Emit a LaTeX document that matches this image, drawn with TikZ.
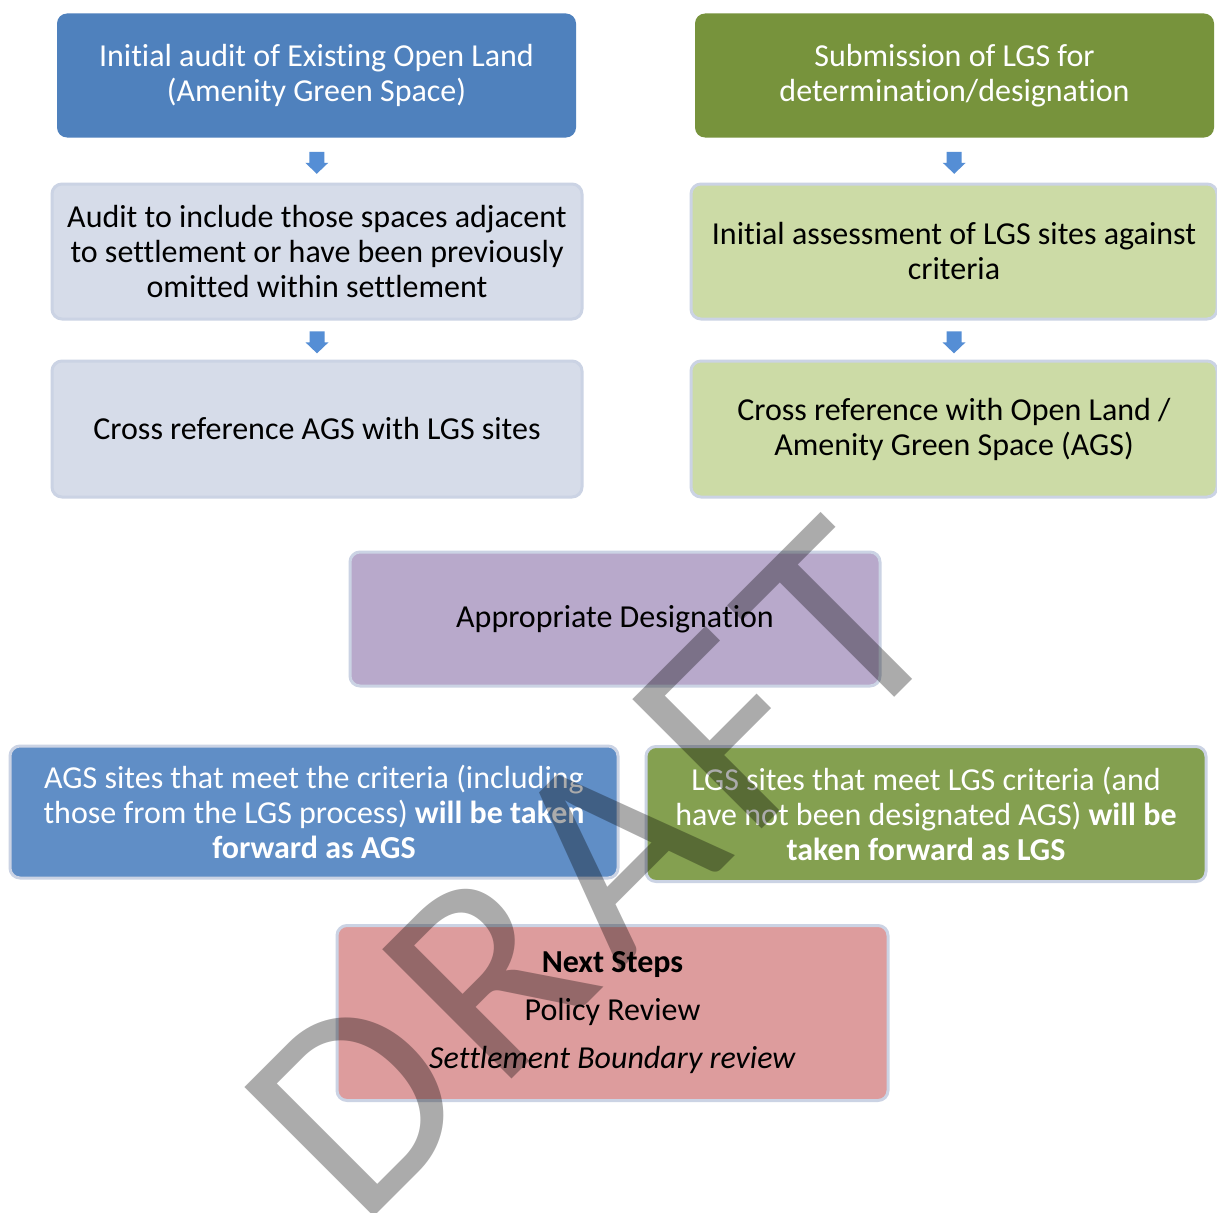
\documentclass[tikz,border=0pt]{standalone}
\usepackage{fontspec}
\setmainfont{Carlito}[Ligatures=NoCommon]
\usetikzlibrary{calc}
\definecolor{darkblue}{RGB}{79,129,189}
\definecolor{darkgreen}{RGB}{119,147,60}
\definecolor{lightblue}{RGB}{214,220,233}
\definecolor{lightgreen}{RGB}{204,219,166}
\definecolor{purplec}{RGB}{184,169,203}
\definecolor{midblue}{RGB}{96,142,198}
\definecolor{midgreen}{RGB}{132,160,80}
\definecolor{pinkc}{RGB}{221,156,157}
\definecolor{bordc}{RGB}{203,211,228}
\definecolor{arrowc}{RGB}{85,142,213}
\begin{document}
\begin{tikzpicture}[x=1pt,y=-1pt,
  base/.style={rectangle, rounded corners=10pt, align=center, inner sep=0pt,
    font=\fontsize{32}{35}\selectfont},
  darkbox/.style={base, text=white},
  lightbox/.style={base, draw=bordc, line width=3pt, text=black},
  wm/.style={rotate=45, text=black, text opacity=0.33, inner sep=0pt,
    font=\fontsize{285}{285}\selectfont}]
\useasboundingbox (0,0) rectangle (1217,1212);
\fill[white] (0,0) rectangle (1217,1212);

% left column
\node[darkbox, fill=darkblue, minimum width=519pt, minimum height=124pt] (b1) at (316.5,75.5)
  {Initial audit of Existing Open Land\\(Amenity Green Space)};
\node[lightbox, fill=lightblue, minimum width=530pt, minimum height=135pt] (b2) at (317,251.5)
  {Audit to include those spaces adjacent\\to settlement or have been previously\\omitted within settlement};
\node[lightbox, fill=lightblue, minimum width=530pt, minimum height=136pt] (b3) at (317,429)
  {Cross reference AGS with LGS sites};

% right column
\node[darkbox, fill=darkgreen, minimum width=519pt, minimum height=124pt] (b4) at (954.5,75.5)
  {Submission of LGS for\\determination/designation};
\node[lightbox, fill=lightgreen, minimum width=526pt, minimum height=135pt] (b5) at (954,251.5)
  {Initial assessment of LGS sites against\\criteria};
\node[lightbox, fill=lightgreen, minimum width=526pt, minimum height=136pt] (b6) at (954,429)
  {Cross reference with Open Land /\\Amenity Green Space (AGS)};

% centre
\node[lightbox, fill=purplec, minimum width=530pt, minimum height=134pt] (b7) at (615,619)
  {Appropriate Designation};

\node[lightbox, fill=midblue, text=white, minimum width=608pt, minimum height=132pt] (b8) at (314,812)
  {AGS sites that meet the criteria (including\\those from the LGS process) \textbf{will be taken}\\\textbf{forward as AGS}};
\node[lightbox, fill=midgreen, text=white, minimum width=560pt, minimum height=135pt] (b9) at (926,814)
  {LGS sites that meet LGS criteria (and\\have not been designated AGS) \textbf{will be}\\\textbf{taken forward as LGS}};

\node[lightbox, fill=pinkc, minimum width=551pt, minimum height=175pt] (b10) at (612.5,1013)
  {\textbf{Next Steps}\\[13pt]Policy Review\\[13pt]\textit{Settlement Boundary review}};

% small block arrows
\foreach \p/\q/\n in {b1/b2/a1, b2/b3/a2, b4/b5/a3, b5/b6/a4}{
  \coordinate (\n) at ($(\p.south)!0.56!(\q.north)$);
  \fill[arrowc] ($(\n)+(-7.5,-11)$) -- ($(\n)+(7.5,-11)$) -- ($(\n)+(7.5,0)$)
    -- ($(\n)+(11.5,0)$) -- ($(\n)+(0,11)$) -- ($(\n)+(-11.5,0)$)
    -- ($(\n)+(-7.5,0)$) -- cycle;
}

% watermark
\node[wm] (draft) at (592,870) {D\kern18pt R\kern18pt A\kern18pt F\kern18pt T};
\end{tikzpicture}
\end{document}
